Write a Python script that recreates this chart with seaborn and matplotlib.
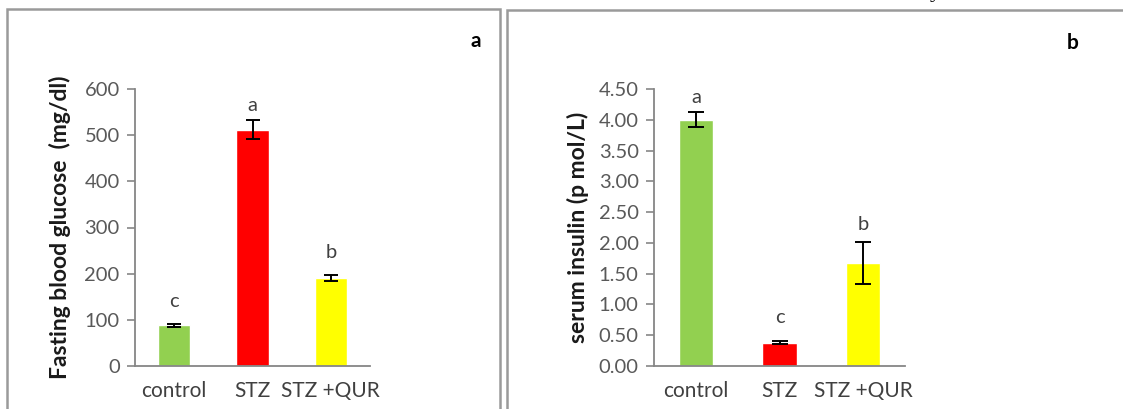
import numpy as np
import pandas as pd
import seaborn as sns
import matplotlib
matplotlib.use("Agg")
import matplotlib.pyplot as plt
from matplotlib.patches import Rectangle

# ---- data ----
categories = ["control", "STZ", "STZ +QUR"]
bar_colors = ["#92D050", "#FF0000", "#FFFF00"]

glucose = [88, 512, 191]
glucose_err = [3, 20, 6]
glucose_letters = ["c", "a", "b"]
glucose_letter_y = [140, 565, 246]
glucose_ticks = [0, 100, 200, 300, 400, 500, 600]
glucose_ticklabels = ["0", "100", "200", "300", "400", "500", "600"]

insulin = [4.00, 0.38, 1.68]
insulin_err = [0.12, 0.02, 0.34]
insulin_letters = ["a", "c", "b"]
insulin_letter_y = [4.37, 0.79, 2.30]
insulin_ticks = [0, 0.5, 1.0, 1.5, 2.0, 2.5, 3.0, 3.5, 4.0, 4.5]
insulin_ticklabels = ["0.00", "0.50", "1.00", "1.50", "2.00", "2.50", "3.00", "3.50", "4.00", "4.50"]

sns.set_theme(style="white")
plt.rcParams["font.family"] = ["Lato", "DejaVu Sans"]

W, H = 1123, 409
fig = plt.figure(figsize=(W / 100, H / 100), dpi=100)

AX_GRAY = "#868686"
TICK_TXT = "#595959"
TXT = "#404040"


def px_axes(x0, x1, ytop, ybot):
    return fig.add_axes([x0 / W, 1 - ybot / H, (x1 - x0) / W, (ybot - ytop) / H])


def panel(ax, vals, errs, letters, letter_y, ticks, ticklabels, ymax, ylabel, capsize, labelpad):
    df = pd.DataFrame({"group": categories, "value": vals})
    sns.barplot(data=df, x="group", y="value", hue="group", palette=bar_colors,
                legend=False, width=0.41, errorbar=None, saturation=1, ax=ax)
    ax.errorbar(x=np.arange(len(categories)), y=vals, yerr=errs, fmt="none",
                ecolor="black", elinewidth=1.4, capsize=capsize, capthick=1.4)
    for i, (lt, ly) in enumerate(zip(letters, letter_y)):
        ax.text(i, ly, lt, ha="center", va="center", fontsize=14.5, color=TXT)
    ax.set_xlim(-0.5, len(categories) - 0.5)
    ax.set_ylim(0, ymax)
    ax.set_yticks(ticks)
    ax.set_yticklabels(ticklabels, fontsize=14.5, color=TICK_TXT)
    ax.set_xticks(np.arange(len(categories)))
    ax.set_xticklabels(categories, fontsize=15, color=TXT)
    ax.set_xticks(np.arange(len(categories) + 1) - 0.5, minor=True)
    ax.tick_params(axis="x", which="major", length=0, pad=11)
    ax.tick_params(axis="x", which="minor", length=6, width=1.2, color=AX_GRAY, direction="out")
    ax.tick_params(axis="y", length=6, width=1.2, color=AX_GRAY, direction="out", pad=5, left=True)
    ax.set_xlabel("")
    ax.set_ylabel(ylabel, fontsize=16.5, fontweight="bold", color="#1a1a1a", labelpad=labelpad)
    for s in ["top", "right"]:
        ax.spines[s].set_visible(False)
    for s in ["left", "bottom"]:
        ax.spines[s].set_color(AX_GRAY)
        ax.spines[s].set_linewidth(1.3)


ax1 = px_axes(135, 370, 89, 366)
panel(ax1, glucose, glucose_err, glucose_letters, glucose_letter_y,
      glucose_ticks, glucose_ticklabels, 600, "Fasting blood glucose  (mg/dl)", 5, 10)

ax2 = px_axes(654, 905, 89, 366)
panel(ax2, insulin, insulin_err, insulin_letters, insulin_letter_y,
      insulin_ticks, insulin_ticklabels, 4.5, "serum insulin (p mol/L)", 5.5, 7)

# panel frames
fig.add_artist(Rectangle((7 / W, -0.05), (500 - 7) / W, 1.05 - 9 / H,
                         transform=fig.transFigure, fill=False, ec="#9a9a9a", lw=1.8))
fig.add_artist(Rectangle((507 / W, -0.05), 1.1 - 507 / W, 1.05 - 10 / H,
                         transform=fig.transFigure, fill=False, ec="#9a9a9a", lw=1.8))

# panel letters
fig.text(476 / W, 1 - 41 / H, "a", ha="center", va="center", fontsize=15, fontweight="bold", color="black")
fig.text(1073 / W, 1 - 43 / H, "b", ha="center", va="center", fontsize=15, fontweight="bold", color="black")

# fragment of text cut off at top
fig.text(935 / W, 1 + 3 / H, "y", ha="center", va="baseline", fontsize=16,
         family=["Liberation Serif"], color="black")

fig.savefig("out.png", dpi=100)
